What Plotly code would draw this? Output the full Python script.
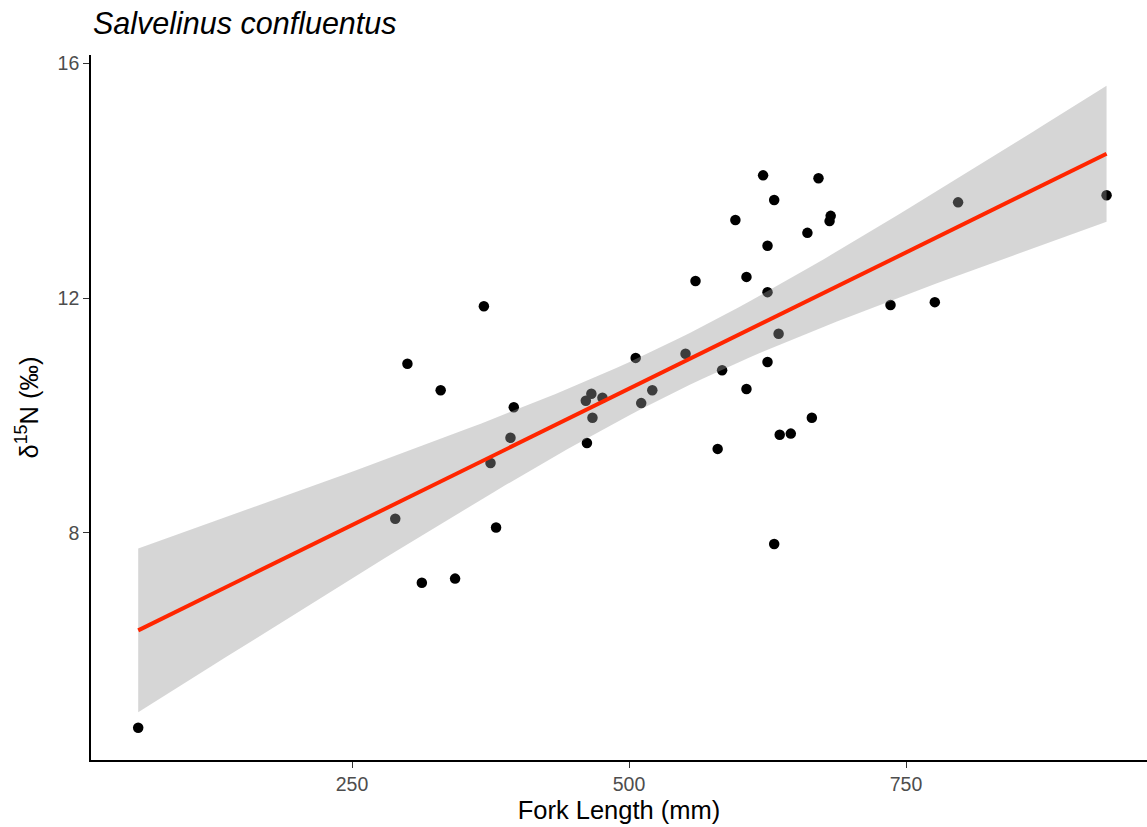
import numpy as np
import plotly.graph_objects as go

title_text = "Salvelinus confluentus"
x_title = "Fork Length (mm)"
y_title = "δ<sup>15</sup>N (‰)"

fork_length = [57, 289, 300, 313, 330, 343, 369, 375, 380, 393, 396, 461, 462, 466, 467,
               476, 506, 511, 521, 551, 560, 580, 584, 596, 606, 606, 621, 625, 625, 625,
               631, 631, 635, 636, 646, 661, 665, 671, 681, 682, 736, 776, 797, 931]
d15n = [4.68, 8.24, 10.88, 7.15, 10.43, 7.22, 11.86, 9.19, 8.09, 9.62, 10.14, 10.25, 9.53,
        10.37, 9.96, 10.30, 10.98, 10.21, 10.43, 11.05, 12.29, 9.43, 10.77, 13.33, 12.36,
        10.45, 14.09, 12.89, 12.10, 10.91, 13.67, 7.81, 11.39, 9.67, 9.69, 13.11, 9.96,
        14.04, 13.31, 13.40, 11.88, 11.93, 13.63, 13.75]

x_ticks = [250, 500, 750]
y_ticks = [8, 12, 16]

x = np.array(fork_length, float)
y = np.array(d15n, float)
n = len(x)
b1, b0 = np.polyfit(x, y, 1)
resid = y - (b0 + b1 * x)
s = np.sqrt(np.sum(resid ** 2) / (n - 2))
xbar = x.mean()
sxx = np.sum((x - xbar) ** 2)
t_crit = 2.018  # t(0.975, df=42)
xg = np.linspace(x.min(), x.max(), 80)
yg = b0 + b1 * xg
se = s * np.sqrt(1 / n + (xg - xbar) ** 2 / sxx)
lo = yg - t_crit * se
hi = yg + t_crit * se

fig = go.Figure()
fig.add_trace(go.Scatter(x=fork_length, y=d15n, mode="markers",
                         marker=dict(color="black", size=10.5), showlegend=False,
                         hoverinfo="skip"))
fig.add_trace(go.Scatter(x=np.concatenate([xg, xg[::-1]]), y=np.concatenate([hi, lo[::-1]]),
                         fill="toself", fillcolor="rgba(153,153,153,0.4)",
                         line=dict(width=0), mode="lines", showlegend=False, hoverinfo="skip"))
fig.add_trace(go.Scatter(x=xg, y=yg, mode="lines", line=dict(color="#FF2600", width=4),
                         showlegend=False, hoverinfo="skip"))

font_family = "Liberation Sans, Arial, Helvetica, sans-serif"
axis_common = dict(showgrid=False, zeroline=False, showline=True, linecolor="black",
                   linewidth=1.6, ticks="outside", ticklen=6, tickwidth=1.4,
                   tickcolor="#333333", tickfont=dict(size=19.5, color="#4D4D4D", family=font_family))
fig.update_xaxes(range=[14.4, 967.5], tickvals=x_ticks, ticktext=[str(v) for v in x_ticks],
                 title=dict(text=x_title, font=dict(size=25.5, color="black", family=font_family),
                            standoff=7), **axis_common)
fig.update_yaxes(range=[4.13, 16.14], tickvals=y_ticks, ticktext=[str(v) for v in y_ticks],
                 title=dict(text=y_title, font=dict(size=25.5, color="black", family=font_family),
                            standoff=12), **axis_common)

fig.update_layout(width=1147, height=827, margin=dict(l=91, r=0, t=55, b=67),
                  plot_bgcolor="white", paper_bgcolor="white",
                  font=dict(family=font_family),
                  annotations=[dict(text="<i>" + title_text + "</i>", xref="paper", yref="paper",
                                    x=0, xanchor="left", y=1 + (55 - 23) / 705, yanchor="middle",
                                    showarrow=False,
                                    font=dict(size=30.5, color="black", family=font_family))])
fig.write_html("out.html")
